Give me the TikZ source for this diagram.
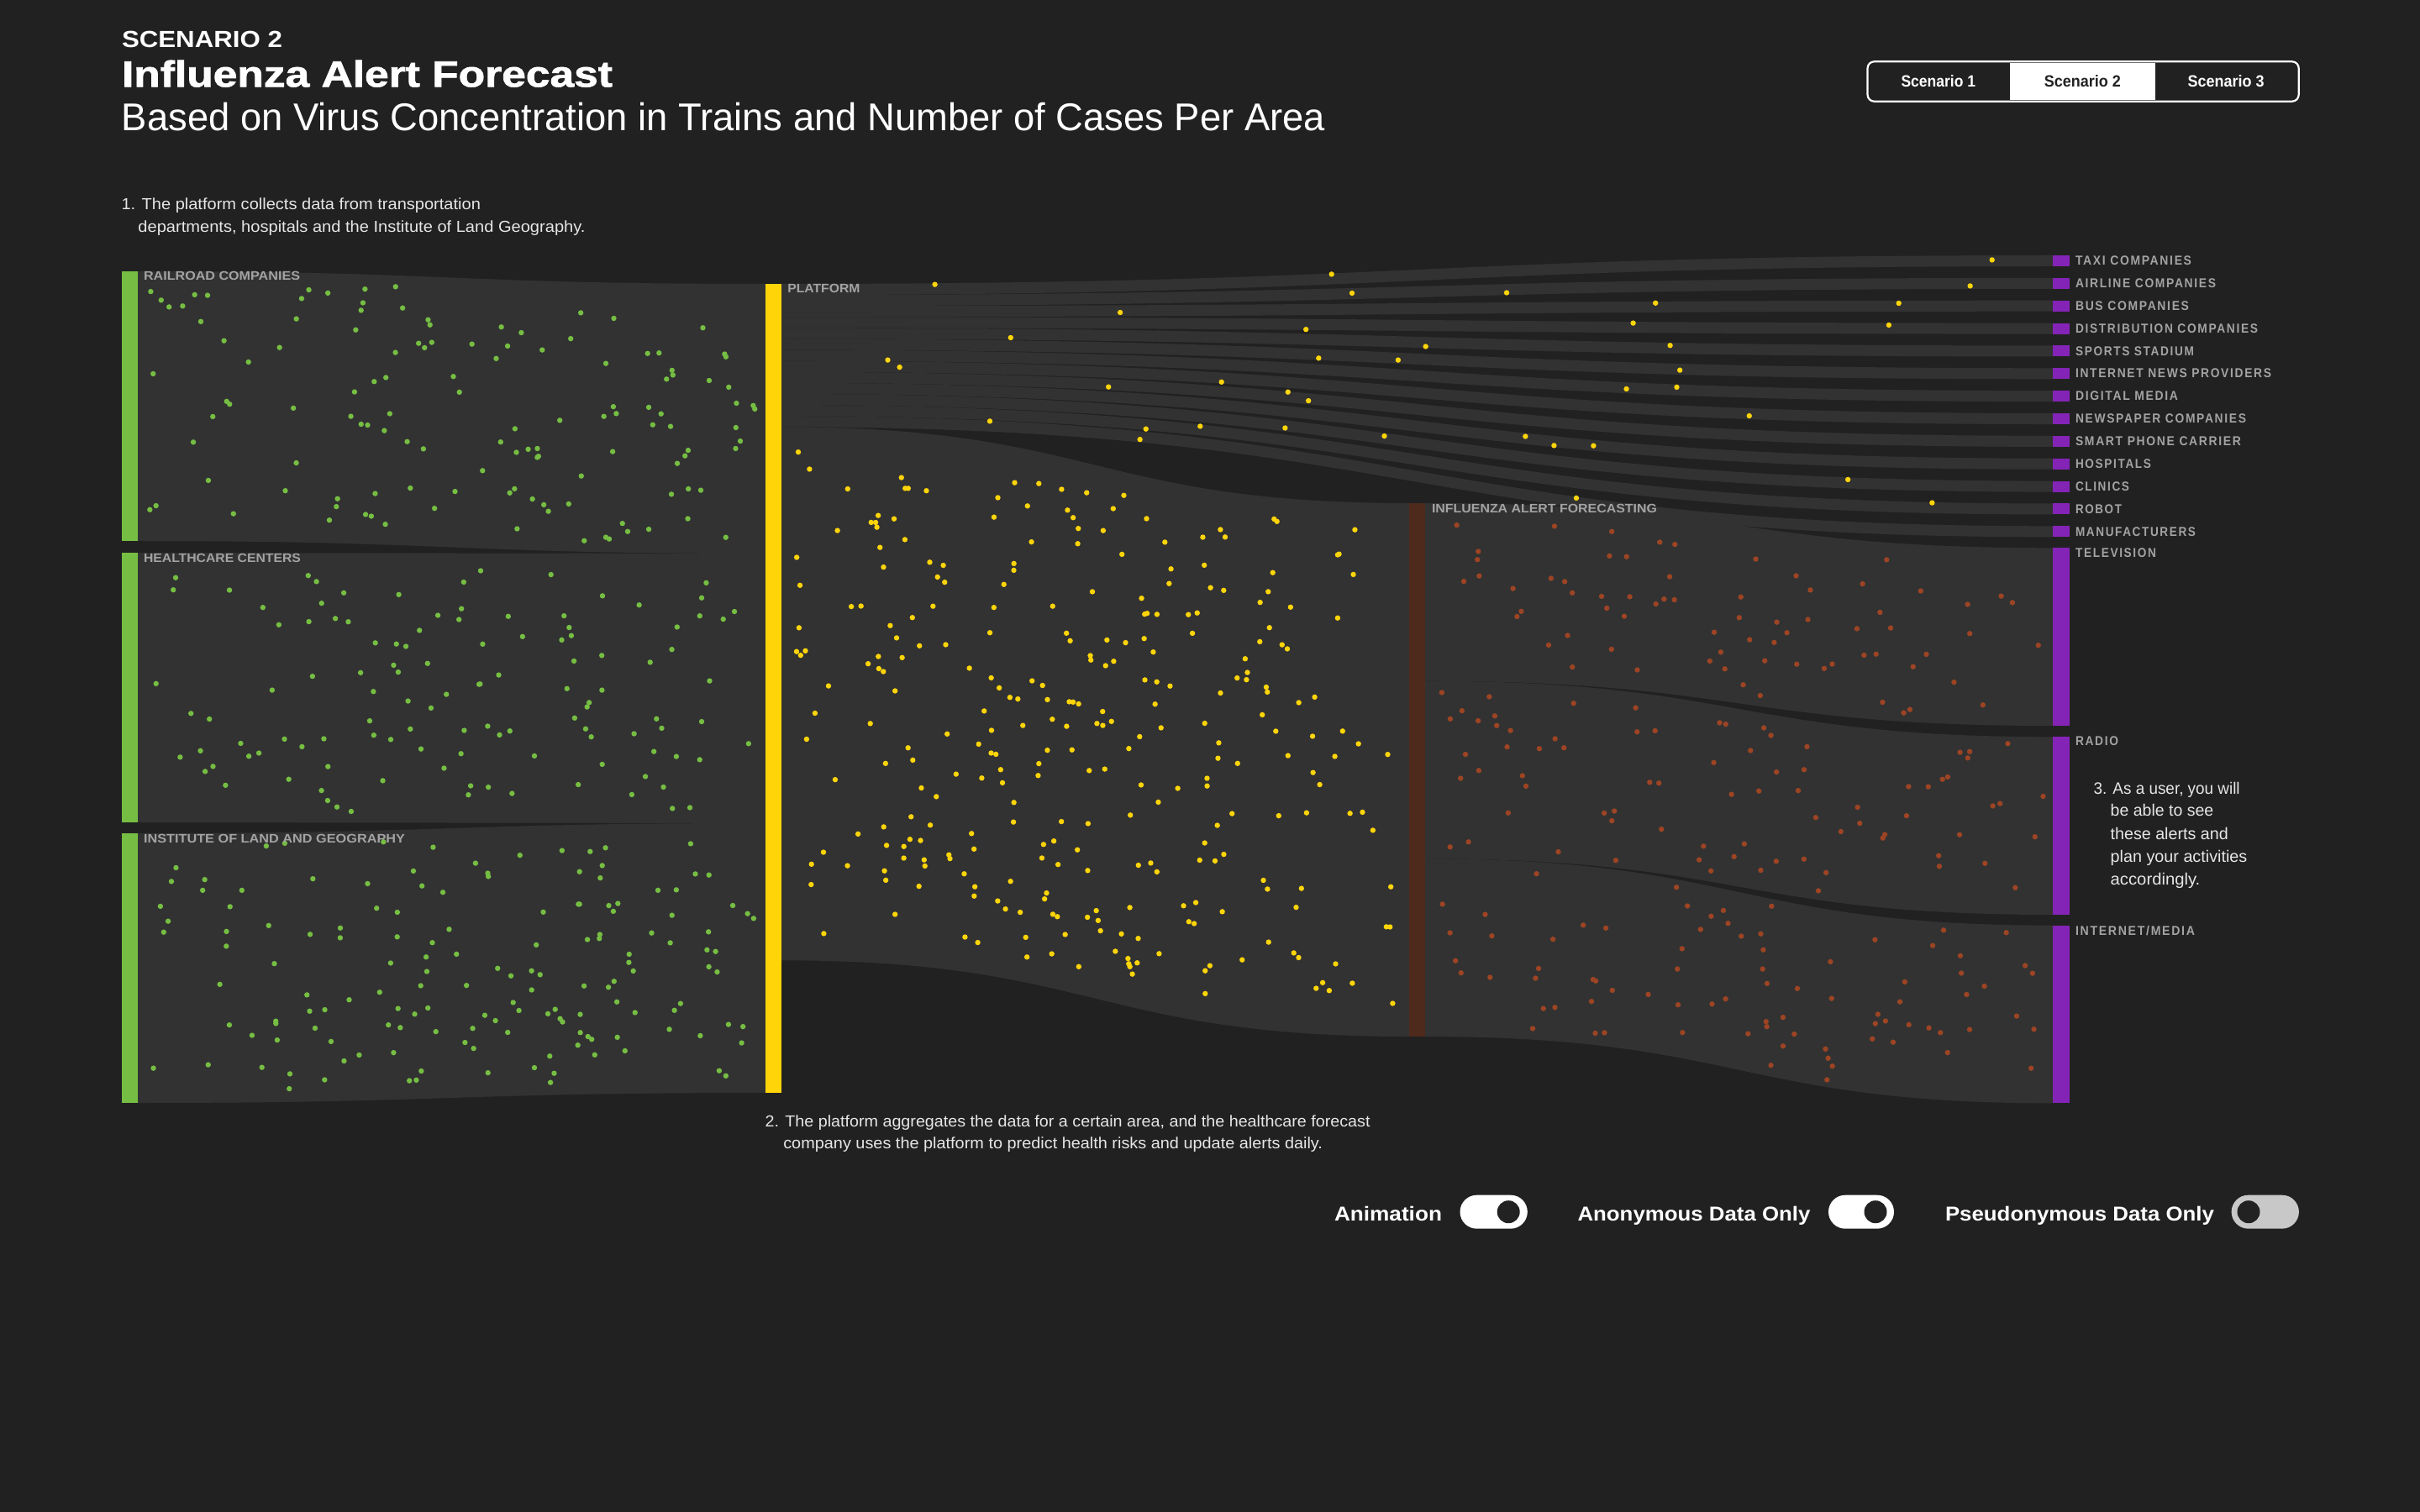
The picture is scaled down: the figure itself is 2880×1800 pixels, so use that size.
\documentclass[tikz,border=0pt]{standalone}
\usepackage{fontspec}
\usepackage{graphicx}
\setmainfont{Liberation Sans}
\newfontfamily\heavyfont{Liberation Sans Bold}[FakeBold=1.5]
\newfontfamily\boldfont{Liberation Sans Bold}
\newfontfamily\spacedfont{Liberation Sans Bold}[LetterSpace=12]
\newlength\pxu
\setlength\pxu{0.1mm}
\newcommand\fitw[2]{\resizebox{#1\pxu}{\height}{#2}}
\definecolor{bgc}{HTML}{212121}
\definecolor{bandc}{HTML}{323232}
\definecolor{greenc}{HTML}{76BE43}
\definecolor{yellowc}{HTML}{FFD50A}
\definecolor{brownc}{HTML}{4E2A1C}
\definecolor{purplec}{HTML}{8424B6}
\definecolor{orangec}{HTML}{9C4424}
\definecolor{labelc}{HTML}{A3A3A3}
\definecolor{notec}{HTML}{E6E6E6}
\definecolor{knobc}{HTML}{222222}
\definecolor{offc}{HTML}{C8C8C8}
% sankey band: x0 x1 top0 top1 bottom0 bottom1
\newcommand\flowband[6]{%
  \fill[bandfill] (#1,#3) .. controls ({(#1+#2)/2},#3) and ({(#1+#2)/2},#4) .. (#2,#4)
    -- (#2,#6) .. controls ({(#1+#2)/2},#6) and ({(#1+#2)/2},#5) .. (#1,#5) -- cycle;}
% random dots inside a band: x0 x1 top0 top1 bottom0 bottom1 count style
\newcommand\flowdots[8]{%
  \foreach \k in {1,...,#7}{%
    \pgfmathsetmacro\dT{0.01+0.98*rnd}%
    \pgfmathsetmacro\dU{0.04+0.92*rnd}%
    \pgfmathsetmacro\dX{#1+(#2-#1)*(1.5*\dT*(1-\dT)+\dT*\dT*\dT)}%
    \pgfmathsetmacro\dS{3*\dT*\dT-2*\dT*\dT*\dT}%
    \pgfmathsetmacro\dA{#3+(#4-#3)*\dS}%
    \pgfmathsetmacro\dB{#5+(#6-#5)*\dS}%
    \pgfmathsetmacro\dY{\dA+\dU*(\dB-\dA)}%
    \fill[#8] (\dX,\dY) circle[radius=3.2];
  }}
\begin{document}
\begin{tikzpicture}[x=0.1mm,y=-0.1mm,
  bandfill/.style={fill=bandc},
  gdot/.style={fill=greenc},
  ydot/.style={fill=yellowc},
  odot/.style={fill=orangec},
  lbl/.style={anchor=base west,inner sep=0pt,outer sep=0pt},
  ctr/.style={anchor=base,inner sep=0pt,outer sep=0pt},
  flowlbl/.style={lbl,text=labelc},
  note/.style={lbl,text=notec},
  pill/.style={rounded corners=2mm},
]
\useasboundingbox (0,0) rectangle (2880,1800);
\fill[bgc] (0,0) rectangle (2880,1800);

% ---------- bands ----------
\flowband{164}{911}{323}{338}{644}{659}
\flowband{164}{911}{658}{659}{979}{980}
\flowband{164}{911}{992}{980}{1313}{1301}
\foreach \i in {0,...,12}{
  \pgfmathsetmacro\sa{338+13.1*\i}
  \pgfmathsetmacro\sb{338+13.1*(\i+1)}
  \pgfmathsetmacro\ta{304+26.86*\i}
  \pgfmathsetmacro\tb{304+26.86*\i+13}
  \flowband{930}{2443}{\sa}{\ta}{\sb}{\tb}
}
\flowband{930}{1677}{508.3}{599}{1143.3}{1234}
\flowband{1696}{2443}{599}{652.3}{810.7}{864}
\flowband{1696}{2443}{810.7}{877.3}{1022.3}{1089}
\flowband{1696}{2443}{1022.3}{1101.7}{1234}{1313.4}

% ---------- dots ----------
\pgfmathsetseed{4711}
\flowdots{164}{911}{323}{338}{644}{659}{125}{gdot}
\flowdots{164}{911}{658}{659}{979}{980}{115}{gdot}
\flowdots{164}{911}{992}{980}{1313}{1301}{150}{gdot}
\flowdots{930}{1677}{508.3}{599}{1143.3}{1234}{290}{ydot}
\foreach \i in {0,...,12}{
  \pgfmathsetmacro\sa{338+13.1*\i}
  \pgfmathsetmacro\sb{338+13.1*(\i+1)}
  \pgfmathsetmacro\ta{304+26.86*\i}
  \pgfmathsetmacro\tb{304+26.86*\i+13}
  \flowdots{930}{2443}{\sa}{\ta}{\sb}{\tb}{3}{ydot}
}
\flowdots{1696}{2443}{599}{652.3}{810.7}{864}{70}{odot}
\flowdots{1696}{2443}{810.7}{877.3}{1022.3}{1089}{78}{odot}
\flowdots{1696}{2443}{1022.3}{1101.7}{1234}{1313.4}{80}{odot}

% ---------- bars ----------
\fill[greenc] (145,323) rectangle (164,644);
\fill[greenc] (145,658) rectangle (164,979);
\fill[greenc] (145,992) rectangle (164,1313);
\fill[yellowc] (911,338) rectangle (930,1301);
\fill[brownc] (1677,599) rectangle (1696,1234);
\foreach \i in {0,...,12}{
  \fill[purplec] (2443,{304+26.86*\i}) rectangle (2463,{304+26.86*\i+13});
}
\fill[purplec] (2443,652.3) rectangle (2463,864);
\fill[purplec] (2443,877.3) rectangle (2463,1089);
\fill[purplec] (2443,1101.7) rectangle (2463,1313.4);

% ---------- flow labels ----------
\node[flowlbl] (lrail) at (171,334) {\fitw{186}{\boldfont\fontsize{4.2pt}{5pt}\selectfont RAILROAD COMPANIES}};
\node[flowlbl] (lhealth) at (171,669.3) {\fitw{187}{\boldfont\fontsize{4.2pt}{5pt}\selectfont HEALTHCARE CENTERS}};
\node[flowlbl] (linst) at (171,1003.3) {\fitw{311}{\boldfont\fontsize{4.2pt}{5pt}\selectfont INSTITUTE OF LAND AND GEOGRAPHY}};
\node[flowlbl] (lplat) at (937.4,348.7) {\fitw{86}{\boldfont\fontsize{4.2pt}{5pt}\selectfont PLATFORM}};
\node[flowlbl] (lflu) at (1704,610.7) {\fitw{268}{\boldfont\fontsize{4.2pt}{5pt}\selectfont INFLUENZA ALERT FORECASTING}};

\foreach \i/\w/\t in {0/138/TAXI COMPANIES,1/167/AIRLINE COMPANIES,2/135/BUS COMPANIES,
  3/217/DISTRIBUTION COMPANIES,4/141/SPORTS STADIUM,5/233/INTERNET NEWS PROVIDERS,
  6/122/DIGITAL MEDIA,7/203/NEWSPAPER COMPANIES,8/197/SMART PHONE CARRIER,
  9/90/HOSPITALS,10/64/CLINICS,11/55/ROBOT,12/143/MANUFACTURERS}{
  \node[flowlbl] (rl\i) at (2470,{304+26.86*\i+11.7}) {\fitw{\w}{\spacedfont\fontsize{4.4pt}{5pt}\selectfont \t}};
}
\node[flowlbl] (ltv) at (2470,664) {\fitw{96}{\spacedfont\fontsize{4.4pt}{5pt}\selectfont TELEVISION}};
\node[flowlbl] (lradio) at (2470,887.7) {\fitw{51}{\spacedfont\fontsize{4.4pt}{5pt}\selectfont RADIO}};
\node[flowlbl] (lnet) at (2470,1113.3) {\fitw{142}{\spacedfont\fontsize{4.4pt}{5pt}\selectfont INTERNET/MEDIA}};

% ---------- titles ----------
\node[lbl,text=white] (scen) at (145,56.7) {\fitw{191}{\boldfont\fontsize{7.9pt}{8pt}\selectfont SCENARIO 2}};
\node[lbl,text=white] (title) at (145,103.3) {\fitw{584}{\heavyfont\fontsize{12.4pt}{13pt}\selectfont Influenza Alert Forecast}};
\node[lbl,text=white] (subtitle) at (145,156) {\fitw{1432}{\fontsize{13.1pt}{14pt}\selectfont Based on Virus Concentration in Trains and Number of Cases Per Area}};

% ---------- notes ----------
\node[note] (n1a) at (144.5,249.3) {\fitw{427.5}{\fontsize{5.4pt}{6pt}\selectfont 1. The platform collects data from transportation}};
\node[note] (n1b) at (164.5,276.7) {\fitw{532}{\fontsize{5.4pt}{6pt}\selectfont departments, hospitals and the Institute of Land Geography.}};
\node[note] (n2a) at (910.6,1341) {\fitw{720}{\fontsize{5.4pt}{6pt}\selectfont 2. The platform aggregates the data for a certain area, and the healthcare forecast}};
\node[note] (n2b) at (932.3,1367.7) {\fitw{641.7}{\fontsize{5.4pt}{6pt}\selectfont company uses the platform to predict health risks and update alerts daily.}};
\node[note] (n3a) at (2491.7,945) {\fitw{174}{\fontsize{5.6pt}{6pt}\selectfont 3. As a user, you will}};
\node[note] (n3b) at (2511.7,971.7) {\fitw{122.6}{\fontsize{5.6pt}{6pt}\selectfont be able to see}};
\node[note] (n3c) at (2511.7,999.3) {\fitw{140}{\fontsize{5.6pt}{6pt}\selectfont these alerts and}};
\node[note] (n3d) at (2511.7,1026) {\fitw{162.6}{\fontsize{5.6pt}{6pt}\selectfont plan your activities}};
\node[note] (n3e) at (2511.7,1053.3) {\fitw{106.6}{\fontsize{5.6pt}{6pt}\selectfont accordingly.}};

% ---------- scenario tabs ----------
\fill[white] (2392,75) rectangle (2565,119);
\draw[white,line width=0.22mm,rounded corners=0.8mm] (2222.5,73.3) rectangle (2735.7,120.7);
\node[ctr,text=white] (tab1) at (2306.8,103.3) {\fitw{88.6}{\boldfont\fontsize{5.5pt}{6pt}\selectfont Scenario 1}};
\node[ctr,text=knobc] (tab2) at (2478.4,103.3) {\fitw{91}{\boldfont\fontsize{5.5pt}{6pt}\selectfont Scenario 2}};
\node[ctr,text=white] (tab3) at (2649,103.3) {\fitw{91}{\boldfont\fontsize{5.5pt}{6pt}\selectfont Scenario 3}};

% ---------- toggles ----------
\node[lbl,text=white] (tanim) at (1588,1453.3) {\fitw{128}{\boldfont\fontsize{6.8pt}{7pt}\selectfont Animation}};
\fill[white,pill] (1737.5,1422.7) rectangle (1817.8,1462.7);
\fill[knobc] (1795.2,1442.7) circle[radius=13.5];
\node[lbl,text=white] (tanon) at (1877.5,1453.3) {\fitw{277}{\boldfont\fontsize{6.8pt}{7pt}\selectfont Anonymous Data Only}};
\fill[white,pill] (2176,1422.7) rectangle (2254,1462.7);
\fill[knobc] (2232,1442.7) circle[radius=13.5];
\node[lbl,text=white] (tpseudo) at (2315,1453.3) {\fitw{320}{\boldfont\fontsize{6.8pt}{7pt}\selectfont Pseudonymous Data Only}};
\fill[offc,pill] (2655.6,1422.7) rectangle (2735.9,1462.7);
\fill[knobc] (2676,1442.7) circle[radius=13.5];
\end{tikzpicture}
\end{document}
